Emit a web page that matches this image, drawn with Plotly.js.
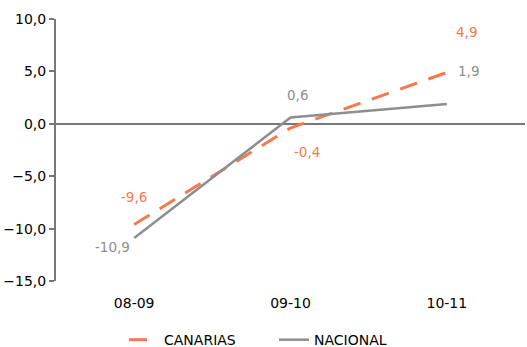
<!DOCTYPE html>
<html><head><meta charset="utf-8">
<script src="https://cdn.plot.ly/plotly-3.0.1.min.js"></script>
<style>body{margin:0;background:#fff}#c{width:527px;height:347px}</style>
</head><body><div id="c"></div>
<script>
const categories = ["08-09", "09-10", "10-11"];
const canarias = [-9.6, -0.4, 4.9];
const nacional = [-10.9, 0.6, 1.9];
const canariasLabels = ["-9,6", "-0,4", "4,9"];
const nacionalLabels = ["-10,9", "0,6", "1,9"];
const yTicks = [-15, -10, -5, 0, 5, 10];

const orange = "#F47A4E";
const grey = "#8E8E8E";
const font = "DejaVu Sans, Verdana, sans-serif";

const traces = [
  {x: categories, y: canarias, name: "CANARIAS", type: "scatter", mode: "lines",
   legend: "legend", line: {color: orange, width: 3, dash: "18px,12px"}},
  {x: categories, y: nacional, name: "NACIONAL", type: "scatter", mode: "lines",
   legend: "legend2", line: {color: grey, width: 2.5}}
];

const cOff = [[0, 27], [16, -24], [20, 40]];
const nOff = [[-22, -9], [7, 23], [22, 33]];
const annotations = [];
categories.forEach((c, i) => {
  annotations.push({x: c, y: canarias[i], text: canariasLabels[i], showarrow: false,
    xshift: cOff[i][0], yshift: cOff[i][1], font: {family: font, size: 13.5, color: orange}});
  annotations.push({x: c, y: nacional[i], text: nacionalLabels[i], showarrow: false,
    xshift: nOff[i][0], yshift: nOff[i][1], font: {family: font, size: 13.5, color: grey}});
});

const legFont = {family: font, size: 14, color: "#000"};
const layout = {
  width: 527, height: 347,
  margin: {l: 56, r: 2, t: 19, b: 66},
  paper_bgcolor: "#fff", plot_bgcolor: "#fff",
  font: {family: font, size: 13, color: "#000"},
  separators: ",.",
  showlegend: true,
  legend: {orientation: "h", xref: "container", x: 124/527, xanchor: "left",
    yref: "container", y: 0.066, yanchor: "top", font: legFont},
  legend2: {orientation: "h", xref: "container", x: 274/527, xanchor: "left",
    yref: "container", y: 0.066, yanchor: "top", font: legFont},
  xaxis: {type: "category", range: [-0.5, 2.5], showgrid: false, zeroline: false,
    showline: false, ticks: "outside", ticklen: 9, tickcolor: "rgba(0,0,0,0)",
    tickfont: {family: font, size: 14, color: "#000"}},
  yaxis: {range: [-15, 10], tickvals: yTicks, tickformat: ".1f", showgrid: false,
    zeroline: true, zerolinecolor: "#777", zerolinewidth: 2,
    showline: true, linecolor: "#777", linewidth: 2,
    ticks: "outside", ticklen: 5, tickcolor: "#777", tickwidth: 2,
    tickfont: {family: font, size: 14, color: "#000"}},
  annotations: annotations
};

Plotly.newPlot("c", traces, layout, {displayModeBar: false, staticPlot: true});
</script></body></html>
